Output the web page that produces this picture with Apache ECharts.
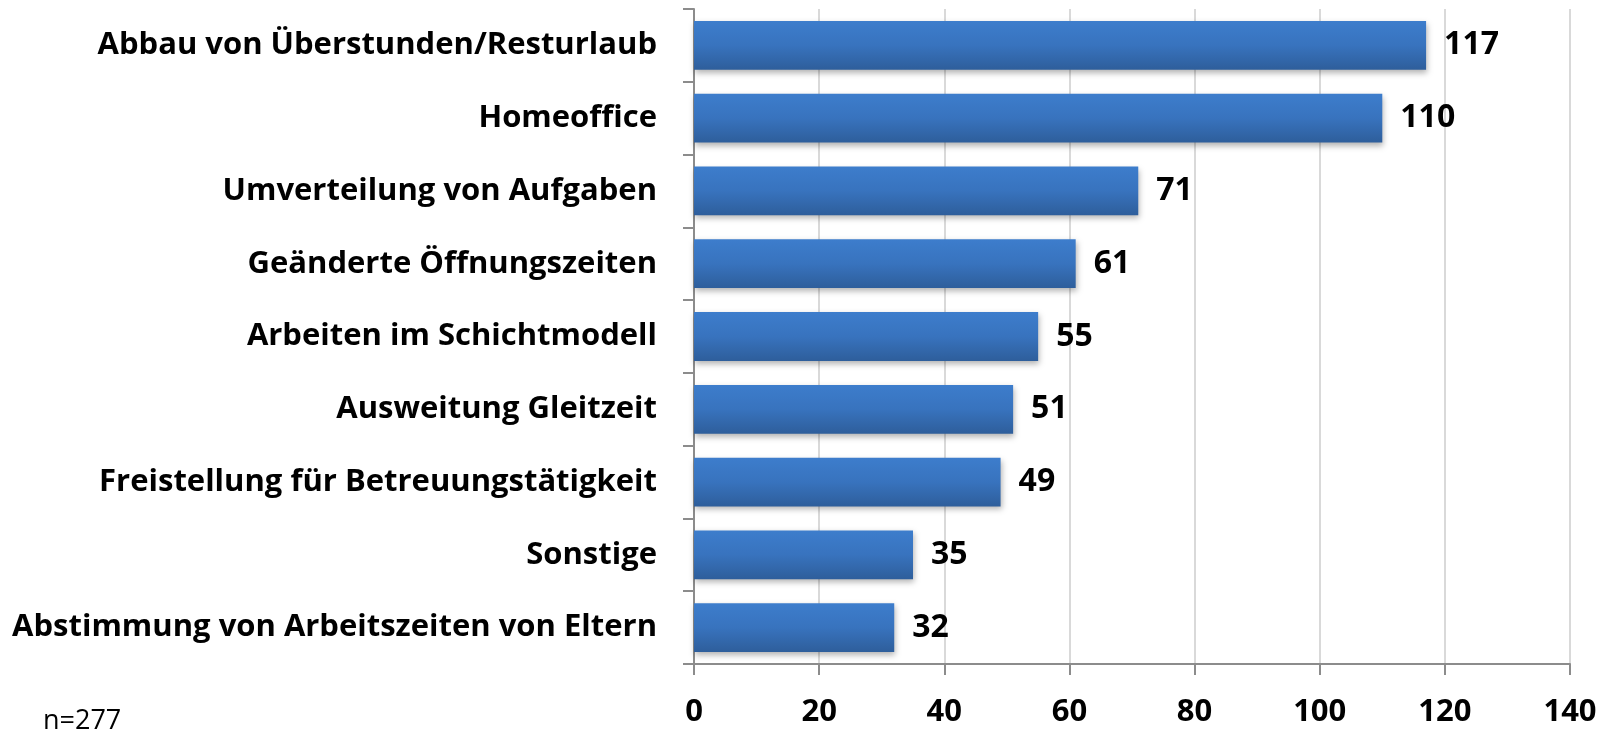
<!DOCTYPE html>
<html>
<head>
<meta charset="utf-8">
<script src="https://cdn.jsdelivr.net/npm/echarts@6/dist/echarts.min.js"></script>
<style>
  html, body { margin: 0; padding: 0; background: #fff; }
  #chart { width: 1614px; height: 731px; }
</style>
</head>
<body>
<div id="chart"></div>
<script>
// Kategorien (von oben nach unten)
const categories = [
  'Abbau von Überstunden/Resturlaub',
  'Homeoffice',
  'Umverteilung von Aufgaben',
  'Geänderte Öffnungszeiten',
  'Arbeiten im Schichtmodell',
  'Ausweitung Gleitzeit',
  'Freistellung für Betreuungstätigkeit',
  'Sonstige',
  'Abstimmung von Arbeitszeiten von Eltern'
];
// Anzahl Nennungen
const values = [117, 110, 71, 61, 55, 51, 49, 35, 32];
const sampleNote = 'n=277';

const chart = echarts.init(document.getElementById('chart'));
const font = '"Open Sans", "Noto Sans", sans-serif';

chart.setOption({
  animation: false,
  textStyle: { fontFamily: font },
  graphic: [
    {
      type: 'text',
      left: 43,
      top: 708,
      style: { text: sampleNote, fontSize: 27, fill: '#000', fontFamily: font }
    }
  ],
  grid: { left: 694, right: 44, top: 9, bottom: 67, containLabel: false },
  xAxis: {
    type: 'value',
    min: 0,
    max: 140,
    interval: 20,
    axisLine: { show: true, lineStyle: { color: '#8c8c8c', width: 2 } },
    axisTick: { show: true, length: 11, lineStyle: { color: '#8c8c8c', width: 2 } },
    axisLabel: { fontSize: 31, fontWeight: 'bold', color: '#000', margin: 33, fontFamily: font },
    splitLine: { show: true, lineStyle: { color: '#d9d9d9', width: 2 } }
  },
  yAxis: {
    type: 'category',
    data: categories,
    inverse: true,
    axisLine: { show: true, lineStyle: { color: '#8c8c8c', width: 2 } },
    axisTick: { show: true, length: 11, lineStyle: { color: '#8c8c8c', width: 2 } },
    axisLabel: { fontSize: 31, fontWeight: 'bold', color: '#000', margin: 37, fontFamily: font }
  },
  series: [
    {
      type: 'bar',
      data: values,
      barCategoryGap: '33%',
      itemStyle: {
        color: new echarts.graphic.LinearGradient(0, 0, 0, 1, [
          { offset: 0, color: '#3d7dcc' },
          { offset: 0.5, color: '#3873be' },
          { offset: 1, color: '#2e5e9b' }
        ]),
        shadowColor: 'rgba(0,0,0,0.3)',
        shadowBlur: 6,
        shadowOffsetY: 3,
        shadowOffsetX: 1
      },
      label: {
        show: true,
        position: 'right',
        distance: 18,
        fontSize: 32,
        fontWeight: 'bold',
        color: '#000',
        fontFamily: font
      }
    }
  ]
});
</script>
</body>
</html>
